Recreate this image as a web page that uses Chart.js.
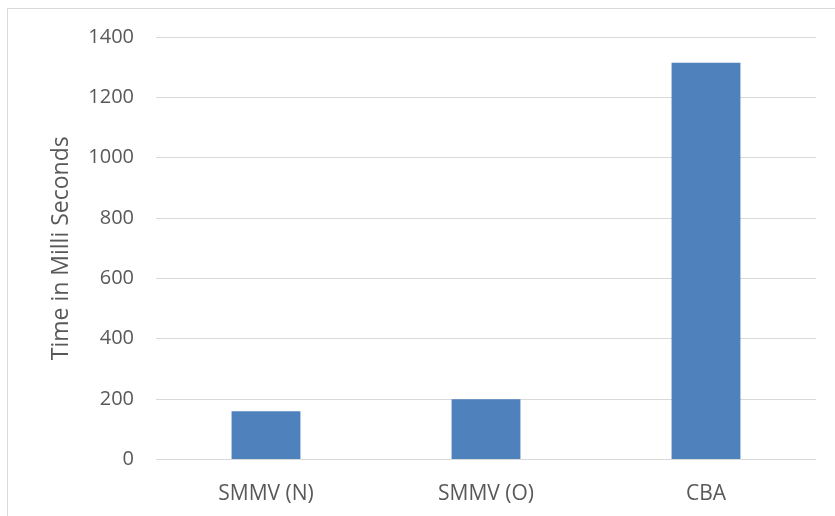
<!DOCTYPE html>
<html>
<head>
<meta charset="utf-8">
<script src="https://cdn.jsdelivr.net/npm/chart.js@4/dist/chart.umd.min.js"></script>
<style>
  html, body { margin: 0; padding: 0; background: #fff; }
  #wrap { position: relative; width: 835px; height: 516px; overflow: hidden; }
  #frame { position: absolute; left: 7px; top: 8px; width: 840px; height: 520px; border: 1px solid #d9d9d9; }
  canvas { position: absolute; left: 0; top: 0; }
</style>
</head>
<body>
<div id="wrap">
  <div id="frame"></div>
  <canvas id="timeChart" width="835" height="516"></canvas>
</div>
<script>
const categories = ["SMMV (N)", "SMMV (O)", "CBA"];
const timeValues = [160, 200, 1315];
const yTicks = [0, 200, 400, 600, 800, 1000, 1200, 1400];

const ctx = document.getElementById("timeChart").getContext("2d");

new Chart(ctx, {
    type: "bar",
    data: {
        labels: categories,
        datasets: [{
            label: "Time",
            data: timeValues,
            backgroundColor: "#4f81bd",
            barPercentage: 1,
            categoryPercentage: 0.313
        }]
    },
    options: {
        responsive: false,
        animation: false,
        layout: {
            padding: { left: 44, right: 19, top: 37, bottom: 0 }
        },
        plugins: {
            legend: { display: false },
            tooltip: { enabled: false }
        },
        scales: {
            x: {
                grid: { display: false },
                border: { display: false },
                ticks: {
                    color: "#595959",
                    padding: 14,
                    font: { family: "Open Sans", size: 21 }
                },
                afterFit: (scale) => { scale.height = 516 - 459.5; }
            },
            y: {
                min: 0,
                max: 1400,
                afterBuildTicks: (scale) => { scale.ticks = yTicks.map(v => ({ value: v })); },
                grid: { color: "#d9d9d9", lineWidth: 1, drawTicks: false },
                border: { display: false },
                ticks: {
                    color: "#595959",
                    padding: 22,
                    font: { family: "Open Sans", size: 20 },
                    callback: (v) => String(v)
                },
                title: {
                    display: true,
                    text: "Time in Milli Seconds",
                    color: "#595959",
                    font: { family: "Open Sans", size: 23 }
                },
                afterFit: (scale) => { scale.width = 156 - 44; }
            }
        }
    }
});
</script>
</body>
</html>
